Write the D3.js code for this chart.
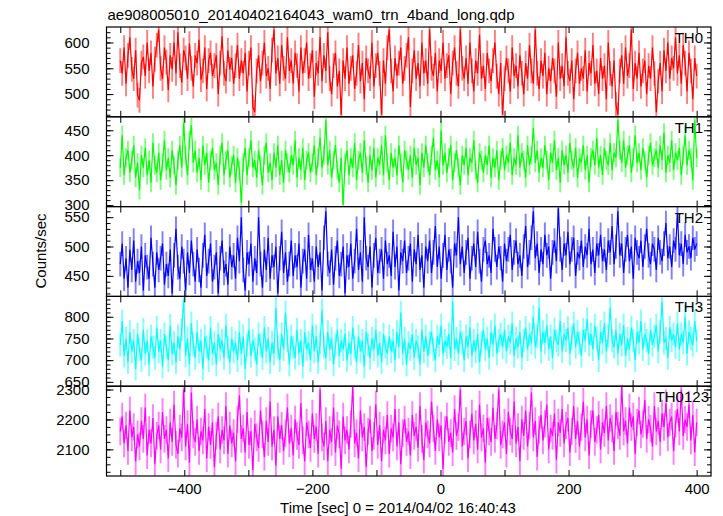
<!DOCTYPE html>
<html><head><meta charset="utf-8">
<script src="https://cdn.jsdelivr.net/npm/d3@7"></script>
<style>body{margin:0;background:#fff}svg{display:block}text{font-family:"Liberation Sans",Arial,sans-serif}</style>
</head><body><div id="chart"></div>
<script>
const title = "ae908005010_20140402164043_wam0_trn_4band_long.qdp";
const xLabel = "Time [sec] 0 = 2014/04/02 16:40:43";
const yLabel = "Counts/sec";
const bandNames = ["TH0", "TH1", "TH2", "TH3", "TH0123"];
const bandColors = ["#ff0000", "#00ff00", "#0000ff", "#00ffff", "#ff00ff"];
const binStart = -500, binSize = 3;
const xDomain = [-521.5, 422.4];
const xTicks = [-500, -400, -300, -200, -100, 0, 100, 200, 300, 400];
const xTickLabels = ["", "−400", "", "−200", "", "0", "", "200", "", "400"];
const yDomains = [[456, 630], [297, 477], [415, 568], [640, 847], [2011, 2311]];
const yMajorTicks = [[500, 550, 600], [300, 350, 400, 450], [450, 500, 550], [650, 700, 750, 800], [2100, 2200, 2300]];
const yMinorStep = [10, 10, 10, 10, 25];
const bandErrors = [24, 19, 21, 27, 46];

const th0 = [565,540,590,520,575,610,548,530,585,498, 488,560,572,535,600,545,580,515,568,595,
625,550,530,590,562,508,575,548,600,540, 620,555,522,585,570,530,598,550,515,575,
560,605,528,545,590,510,565,580,535,555, 575,500,560,612,540,525,585,548,570,520,
555,595,530,565,540,580,505,560,590,475, 465,545,575,525,560,600,535,550,510,585,
625,540,570,520,595,550,530,610,545,565, 520,580,555,505,590,540,565,600,530,555,
585,495,560,540,610,525,575,545,620,530, 500,555,580,515,545,460,565,530,590,520,
550,575,510,540,595,525,560,490,570,545, 530,600,515,555,580,540,460,565,520,590,
625,545,505,570,535,560,590,520,550,575, 610,475,545,585,530,560,515,600,540,565,
520,625,550,535,580,505,565,545,600,530, 555,575,500,560,590,540,515,625,550,530,
570,520,600,545,505,565,540,615,530,555, 510,580,545,525,565,600,535,500,560,460,
530,570,545,505,590,535,555,515,575,540, 500,560,530,595,545,520,625,540,510,565,
535,580,500,550,525,570,545,495,600,530, 555,515,610,540,525,565,490,545,580,520,
550,530,585,505,560,540,595,520,545,500, 570,530,555,490,600,540,515,565,480,460,
545,575,520,590,535,555,625,510,560,530, 580,515,545,565,500,555,530,590,540,465,
525,560,505,585,545,600,530,570,550,610, 540,575,520,595,560,505,580,545,490,570, 535];

const th1 = [375,440,360,395,410,365,390,420,355,385, 330,400,375,415,360,390,345,425,380,365,
405,350,385,430,370,395,355,410,380,340, 390,420,375,465,400,360,430,460,385,410,
365,395,350,420,380,405,345,390,415,370, 385,340,400,425,360,390,410,355,380,400,
345,395,370,305,385,415,360,395,430,375, 390,355,410,380,340,400,425,365,385,350,
405,375,420,360,390,345,410,385,365,400, 380,430,355,395,370,415,350,390,405,365,
385,420,360,395,435,375,400,470,380,410, 355,390,420,370,345,395,300,385,410,360,
395,375,425,350,390,405,365,430,380,345, 400,370,415,355,395,380,420,360,440,385,
350,405,375,395,360,420,385,345,410,390, 370,400,355,415,380,395,340,405,375,420,
385,360,400,435,370,390,355,450,380,405, 365,395,420,350,385,410,375,340,400,380,
415,360,395,385,430,370,345,405,390,365, 400,380,420,355,395,375,410,350,390,415,
370,400,385,425,360,395,380,440,375,405, 390,355,420,380,400,455,385,410,365,395,
375,420,390,350,405,385,430,370,395,345, 410,380,400,365,425,390,375,415,355,395,
385,420,370,400,345,395,410,380,435,375, 400,360,415,390,380,425,370,405,395,470,
410,385,430,375,400,420,365,395,440,385, 405,370,415,390,355,400,425,380,395,410,
375,420,390,445,365,400,385,430,370,405, 390,415,360,400,440,380,410,395,350,470, 395];

const th2 = [470,505,445,480,430,495,460,510,440,475, 455,500,425,485,465,445,515,470,430,490,
460,480,505,435,470,450,495,420,485,530, 465,445,500,475,425,490,455,510,470,440,
495,460,430,485,520,450,475,505,440,465, 490,420,480,510,455,470,435,500,465,485,
445,515,475,550,460,425,490,470,505,440, 480,455,550,470,430,495,460,515,445,485,
465,500,420,480,525,455,490,440,470,510, 450,485,465,505,430,475,495,445,520,460,
480,440,500,465,490,425,515,560,470,455, 495,435,480,510,450,470,500,420,485,465,
505,445,475,530,460,490,440,550,480,465, 500,430,485,515,455,475,495,445,510,470,
485,450,525,465,500,425,490,475,510,455, 480,505,440,495,470,520,460,485,430,500,
475,510,455,490,535,465,500,445,485,520, 460,495,475,430,505,485,550,470,500,455,
490,515,445,480,505,465,525,475,440,495, 510,470,485,455,530,495,465,500,480,440,
505,475,495,520,460,490,510,470,485,450, 500,535,465,490,515,560,480,505,455,495,
470,520,485,500,445,490,510,475,565,495, 460,505,485,525,470,495,515,450,490,480,
510,465,500,485,530,470,495,455,505,485, 520,475,495,460,510,490,535,470,500,560,
485,505,455,495,520,475,500,445,515,490, 480,510,465,500,530,485,470,505,495,460,
515,490,475,505,540,480,500,465,510,495, 555,485,505,470,520,490,500,480,515,495, 505];

const th3 = [735,790,710,750,695,765,720,745,680,760, 725,700,770,715,745,690,755,730,705,775,
720,745,685,760,730,700,780,715,740,695, 755,725,770,840,710,750,690,785,735,705,
765,720,745,680,755,730,700,775,715,740, 690,760,725,745,705,780,730,695,750,720,
740,700,765,715,755,680,735,770,710,745, 725,690,760,735,705,775,720,750,695,740,
715,820,730,700,760,725,810,745,690,755, 730,705,770,715,745,685,765,725,740,700,
780,720,755,695,740,815,730,705,765,725, 750,690,735,770,710,745,725,760,700,740,
715,775,730,695,755,720,745,685,765,735, 705,750,725,770,710,740,695,760,730,715,
755,720,745,700,765,730,810,715,750,690, 740,725,760,705,745,730,690,770,720,755,
710,740,765,725,700,755,735,780,715,745, 730,760,705,835,725,750,715,765,740,700,
755,730,775,710,745,720,760,695,740,770, 725,750,705,765,735,780,715,745,760,730,
770,720,755,740,785,710,750,730,765,705, 745,775,725,760,740,800,730,755,820,720,
765,740,780,725,755,705,770,745,735,790, 720,760,745,775,715,750,785,730,765,740,
710,770,745,795,735,760,725,780,750,700, 765,740,785,720,755,820,745,730,770,715,
760,735,780,710,750,725,775,745,700,765, 740,790,725,760,745,715,770,735,755,780,
720,765,835,740,750,705,775,745,760,730, 785,725,760,740,800,715,765,750,735,790, 745];

const th0123 = [2160,2210,2120,2180,2095,2230,2140,2175,2060,2150, 2110,2195,2135,2240,2080,2165,2120,2205,2050,2145,
2180,2100,2225,2135,2165,2070,2190,2125,2250,2115, 2085,2170,2140,2300,2110,2185,2055,2290,2150,2125,
2200,2095,2160,2130,2235,2070,2175,2115,2190,2040, 2145,2210,2100,2165,2130,2245,2085,2180,2120,2155,
2060,2200,2280,2135,2170,2090,2225,2115,2160,2030, 2185,2140,2105,2230,2150,2075,2195,2125,2260,2110,
2165,2045,2210,2135,2180,2095,2155,2240,2120,2170, 2080,2200,2145,2115,2255,2130,2060,2190,2150,2105,
2220,2135,2175,2085,2300,2140,2110,2195,2060,2165, 2125,2240,2090,2180,2150,2035,2210,2130,2165,2100,
2185,2310,2120,2155,2070,2230,2140,2175,2040,2160, 2200,2095,2145,2250,2115,2180,2060,2165,2130,2215,
2085,2170,2140,2235,2110,2190,2050,2155,2200,2125, 2160,2080,2215,2145,2175,2105,2245,2135,2065,2190,
2150,2120,2260,2170,2095,2200,2140,2180,2035,2165, 2210,2125,2155,2090,2235,2145,2175,2300,2110,2160,
2195,2070,2150,2220,2130,2185,2100,2250,2140,2170, 2055,2205,2160,2125,2240,2135,2180,2300,2115,2150,
2190,2085,2225,2160,2135,2260,2120,2175,2060,2200, 2145,2230,2110,2180,2290,2140,2195,2075,2165,2215,
2130,2185,2250,2100,2170,2145,2220,2065,2190,2155, 2235,2120,2180,2205,2090,2160,2245,2135,2195,2110,
2175,2260,2140,2200,2080,2185,2230,2125,2165,2215, 2100,2190,2155,2245,2130,2205,2170,2095,2225,2180,
2145,2310,2160,2195,2120,2240,2175,2210,2085,2190, 2230,2150,2185,2265,2135,2200,2170,2110,2245,2160,
2195,2125,2220,2175,2255,2140,2190,2210,2095,2185, 2235,2160,2300,2145,2200,2175,2250,2130,2215,2090, 2190];

const seriesValues = [th0, th1, th2, th3, th0123];

// ---- layout ----
const W = 723, H = 516;
const mL = 106.5, mR = 711, mT = 27, mB = 476;
const nP = seriesValues.length;
const ph = (mB - mT) / nP;
const labelEndX = [703, 703, 703, 703, 709];
const FONT = '"Liberation Sans",Arial,sans-serif';

const svg = d3.select("#chart").append("svg").attr("width", W).attr("height", H);
const x = d3.scaleLinear().domain(xDomain).range([mL, mR]);
const binPx = x(binSize) - x(0);

svg.append("text").attr("x", mL + 1).attr("y", 20).attr("font-size", 15).text(title);

seriesValues.forEach((vals, p) => {
  const y0 = mT + p * ph, y1 = y0 + ph;
  const y = d3.scaleLinear().domain(yDomains[p]).range([y1, y0]);
  const pts = vals.map((v, i) => ({t: binStart + i * binSize, v}));
  const g = svg.append("g");
  const cid = "clip" + p;
  svg.append("clipPath").attr("id", cid).append("rect").attr("x", mL).attr("y", y0).attr("width", mR - mL).attr("height", ph);
  const dg = g.append("g").attr("clip-path", `url(#${cid})`);
  const err = bandErrors[p];
  dg.selectAll("line.err").data(pts).join("line").attr("class", "err")
    .attr("x1", d => x(d.t)).attr("x2", d => x(d.t))
    .attr("y1", d => y(d.v - err)).attr("y2", d => y(d.v + err))
    .attr("stroke", bandColors[p]).attr("stroke-opacity", 0.5).attr("stroke-width", binPx);
  dg.append("path").datum(pts)
    .attr("d", d3.line().x(d => x(d.t)).y(d => y(d.v)))
    .attr("fill", "none").attr("stroke", bandColors[p]).attr("stroke-width", 1.2);

  const minorTicks = d3.range(Math.ceil(yDomains[p][0] / yMinorStep[p]) * yMinorStep[p], yDomains[p][1], yMinorStep[p]);
  const axL = d3.axisLeft(y).tickValues(minorTicks).tickSize(-4).tickFormat("");
  const axL2 = d3.axisLeft(y).tickValues(yMajorTicks[p]).tickSize(-7).tickPadding(17).tickFormat(d3.format("d"));
  const axR = d3.axisRight(y).tickValues(minorTicks).tickSize(-4).tickFormat("");
  const axR2 = d3.axisRight(y).tickValues(yMajorTicks[p]).tickSize(-7).tickFormat("");
  [[axL, mL], [axL2, mL], [axR, mR], [axR2, mR]].forEach(([ax, xx]) => {
    const a = g.append("g").attr("transform", `translate(${xx},0)`).call(ax);
    a.select(".domain").remove();
    a.selectAll("line").attr("stroke", "#000");
    a.selectAll("text").attr("font-size", 15).attr("fill", "#000").attr("font-family", FONT);
  });
  const axT = d3.axisTop(x).tickValues(xTicks).tickSize(-6).tickFormat("");
  const axB = d3.axisBottom(x).tickValues(xTicks).tickSize(-6).tickFormat("");
  [[axT, y0], [axB, y1]].forEach(([ax, yy]) => {
    const a = g.append("g").attr("transform", `translate(0,${yy})`).call(ax);
    a.select(".domain").remove();
    a.selectAll("line").attr("stroke", "#000");
  });
  g.append("rect").attr("x", mL).attr("y", y0).attr("width", mR - mL).attr("height", ph)
    .attr("fill", "none").attr("stroke", "#000").attr("stroke-width", 1.2);
  g.append("text").attr("x", labelEndX[p]).attr("y", y0 + 16).attr("text-anchor", "end")
    .attr("font-size", 15).text(bandNames[p]);
});

const xl = svg.append("g").attr("transform", `translate(0,${mB})`)
  .call(d3.axisBottom(x).tickValues(xTicks).tickSize(0).tickPadding(7).tickFormat((d, i) => xTickLabels[i]));
xl.select(".domain").remove();
xl.selectAll("text").attr("font-size", 15).attr("fill", "#000").attr("font-family", FONT);

svg.append("text").attr("x", 398).attr("y", 513).attr("text-anchor", "middle").attr("font-size", 15).text(xLabel);
svg.append("text").attr("transform", "translate(46,251) rotate(-90)").attr("text-anchor", "middle").attr("font-size", 15).text(yLabel);
</script></body></html>
